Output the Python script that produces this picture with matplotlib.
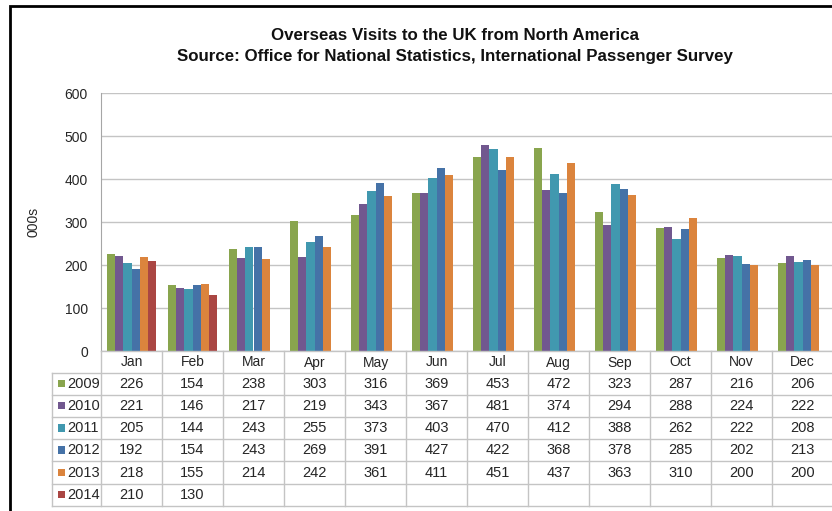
import numpy as np
import matplotlib

matplotlib.use("Agg")
import matplotlib.pyplot as plt
from matplotlib.patches import Rectangle

plt.rcParams["font.family"] = ["Liberation Sans Narrow", "Liberation Sans", "DejaVu Sans"]

# ---------------------------------------------------------------------------
# data (thousands of visits)
# ---------------------------------------------------------------------------
months = ["Jan", "Feb", "Mar", "Apr", "May", "Jun",
          "Jul", "Aug", "Sep", "Oct", "Nov", "Dec"]
years = ["2009", "2010", "2011", "2012", "2013", "2014"]

v2009 = [226, 154, 238, 303, 316, 369, 453, 472, 323, 287, 216, 206]
v2010 = [221, 146, 217, 219, 343, 367, 481, 374, 294, 288, 224, 222]
v2011 = [205, 144, 243, 255, 373, 403, 470, 412, 388, 262, 222, 208]
v2012 = [192, 154, 243, 269, 391, 427, 422, 368, 378, 285, 202, 213]
v2013 = [218, 155, 214, 242, 361, 411, 451, 437, 363, 310, 200, 200]
v2014 = [210, 130]

series = [v2009, v2010, v2011, v2012, v2013, v2014]
colors = ["#89A54E", "#71588F", "#4198AF", "#4572A7", "#DB843D", "#AA4643"]

yticks = [0, 100, 200, 300, 400, 500, 600]

# ---------------------------------------------------------------------------
# layout (pixels)
# ---------------------------------------------------------------------------
W, H = 832, 511
PL, PR, PT, PB = 101, 833, 93.5, 351
MONTH_W = (PR - PL) / len(months)
ROW_H = 22.2
LEG_L = 52
GRID = "#c4c4c4"
TXT = "#262626"

fig = plt.figure(figsize=(W / 100, H / 100), dpi=100)
fig.patch.set_facecolor("white")

ax = fig.add_axes([PL / W, 1 - PB / H, (PR - PL) / W, (PB - PT) / H])
x = np.arange(len(months)) + 0.5
bw = 0.8 / len(years)
for k, (vals, c) in enumerate(zip(series, colors)):
    xs = x[:len(vals)] + (k - (len(years) - 1) / 2) * bw
    ax.bar(xs, vals, width=bw, color=c, edgecolor="none", zorder=3)

ax.set_xlim(0, len(months))
ax.set_ylim(0, 600)
ax.set_yticks(yticks)
ax.set_yticklabels([str(t) for t in yticks], fontsize=10, color=TXT)
ax.tick_params(axis="y", length=0, pad=9.5)
ax.set_xticks([])
ax.grid(axis="y", color=GRID, lw=1, zorder=0)
for s in ["top", "right", "bottom"]:
    ax.spines[s].set_visible(False)
ax.spines["left"].set_color("#a6a6a6")
ax.set_ylabel("000s", fontsize=10, color=TXT, labelpad=17)

# ---------------------------------------------------------------------------
# title, data table and frame drawn in pixel coordinates
# ---------------------------------------------------------------------------
ov = fig.add_axes([0, 0, 1, 1])
ov.set_xlim(0, W)
ov.set_ylim(H, 0)
ov.axis("off")

ov.text(455, 35, "Overseas Visits to the UK from North America",
        ha="center", va="center", fontsize=12.2, fontweight="bold", color="#111111")
ov.text(455, 57, "Source: Office for National Statistics, International Passenger Survey",
        ha="center", va="center", fontsize=12.2, fontweight="bold", color="#111111")

head_b = PB + 21.7
tab_b = head_b + ROW_H * len(years)

# horizontal table lines
ov.plot([PL, W], [PB, PB], color=GRID, lw=1)
for r in range(len(years) + 1):
    y = head_b + r * ROW_H
    ov.plot([LEG_L, W], [y, y], color=GRID, lw=1)
# vertical table lines
for i in range(len(months) + 1):
    xl = PL + i * MONTH_W
    ov.plot([xl, xl], [PB, tab_b], color=GRID, lw=1)
ov.plot([LEG_L, LEG_L], [head_b, tab_b], color=GRID, lw=1)

for i, m in enumerate(months):
    cx = PL + (i + 0.5) * MONTH_W
    ov.text(cx, PB + 11.5, m, ha="center", va="center", fontsize=10, color=TXT)

for r, (yr, vals, c) in enumerate(zip(years, series, colors)):
    cy = head_b + (r + 0.5) * ROW_H
    ov.add_patch(Rectangle((57.5, cy - 4), 7.5, 7.5, color=c, lw=0))
    ov.text(67.5, cy, yr, ha="left", va="center", fontsize=10.5, color=TXT)
    for i, v in enumerate(vals):
        cx = PL + (i + 0.5) * MONTH_W
        ov.text(cx, cy, str(v), ha="center", va="center", fontsize=10.5, color=TXT)

# outer chart frame (cropped screenshot)
ov.plot([10, 10, W], [H, 6, 6], color="black", lw=2, solid_joinstyle="miter")

fig.savefig("out.png", dpi=100)
